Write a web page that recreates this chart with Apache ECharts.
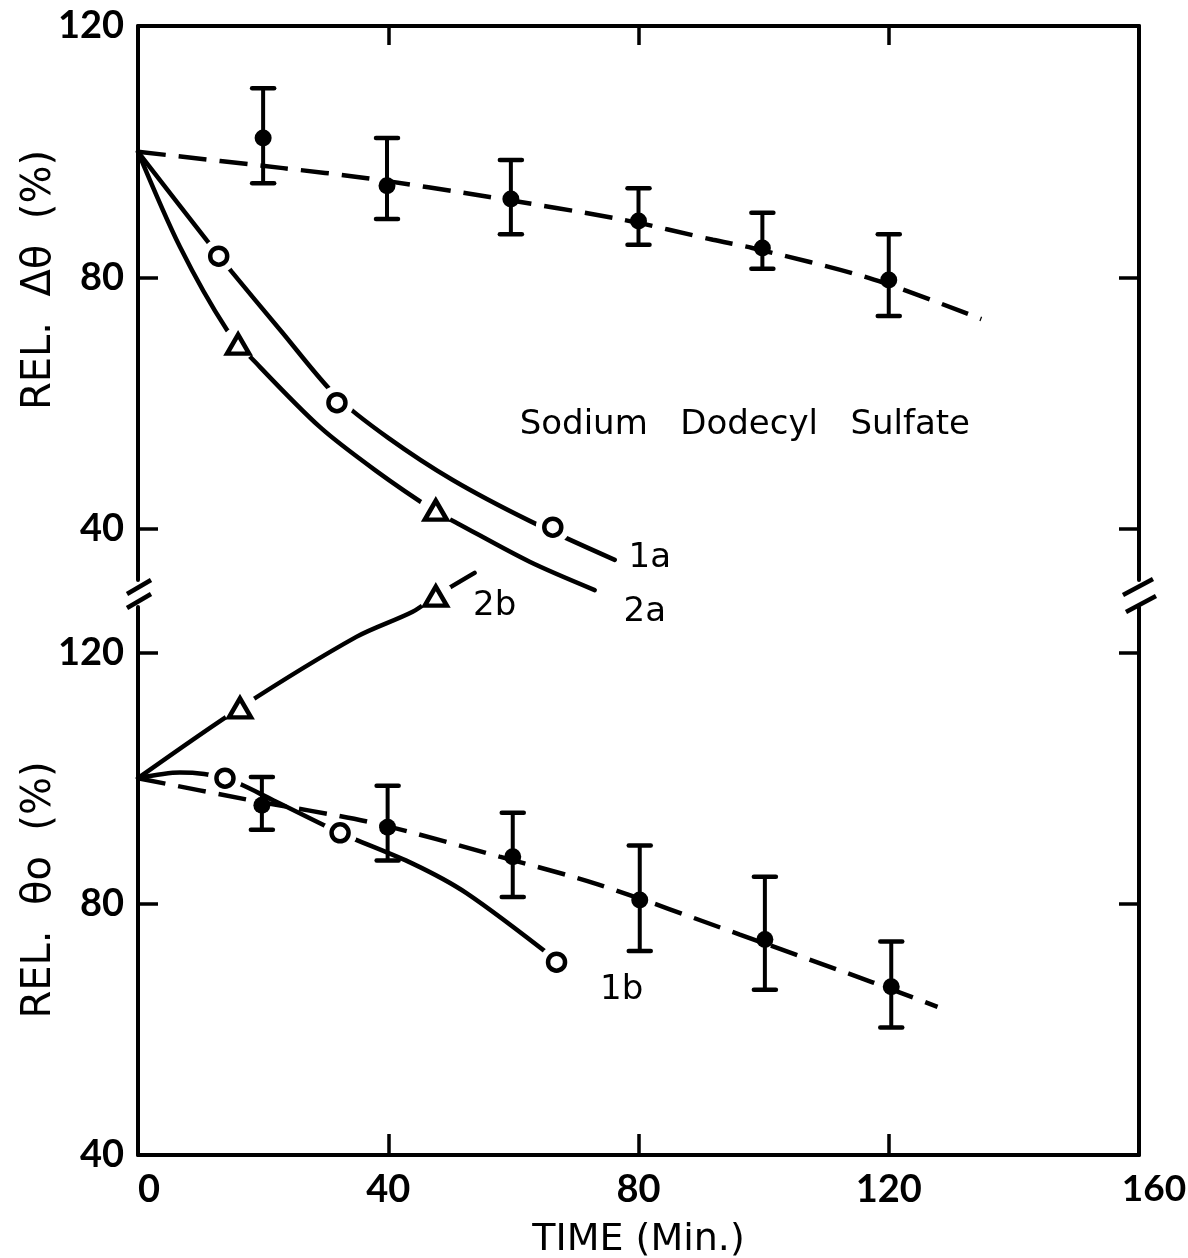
<!DOCTYPE html>
<html><head><meta charset="utf-8">
<script src="https://cdn.jsdelivr.net/npm/echarts@6/dist/echarts.min.js"></script>
<style>html,body{margin:0;padding:0;background:#fff}#c{width:1188px;height:1258px}</style>
</head><body><div id="c"></div>
<script>
// ---- tick labels ----
const xTicks = [0, 40, 80, 120, 160];
const yTicksUpper = [40, 80, 120];
const yTicksLower = [40, 80, 120];

// ---- upper panel: REL. Δθ (%) ----
const dthetaDots = [[20.0,102.2],[39.8,94.6],[59.6,92.5],[80.0,89.0],[99.8,84.7],[120.0,79.6]];
const dthetaErr  = [[20.0,95.0,110.1],[39.8,89.3,102.2],[59.6,86.9,98.7],[80.0,85.2,94.2],[99.8,81.4,90.3],[120.0,73.9,86.9]];
const dthetaTrend = [[0,100],[23.2,97.4],[36.6,95.8],[56.2,92.8],[77.5,89.2],[91.9,86.0],[98.2,84.7],[116.9,79.9],[134.8,73.4]];
const curve1a = [[0,100],[11,85.9],[15,80.9],[22.7,71.7],[31.8,61.0],[40,54.5],[50.3,47.8],[62.6,41.3],[76.2,35.1]];
const marks1a = [[12.9,83.4],[31.8,60.1],[66.3,40.3]];
const curve2a = [[0,100],[6.7,84.9],[14.2,71.7],[18.7,66.6],[29.1,56.2],[38,49.3],[47.4,42.9],[51.1,40.9],[62.6,34.8],[73,30.3]];
const marks2a = [[16.0,69.4],[47.6,43.0]];

// ---- lower panel: REL. θo (%) ----
const thetaDots = [[19.8,95.7],[39.9,92.2],[59.9,87.5],[80.2,80.6],[100.2,74.3],[120.4,66.8]];
const thetaErr  = [[19.8,91.8,100.2],[39.9,86.9,98.8],[59.9,81.1,94.5],[80.2,72.5,89.3],[100.2,66.3,84.3],[120.4,60.3,74.0]];
const thetaTrend = [[0,100],[17.4,96.6],[37.5,92.9],[57.8,87.5],[73.5,83.1],[96.2,75.1],[117.4,67.5],[127.8,63.6]];
const curve1b = [[0,100],[6.7,100.9],[13.9,100.0],[21.6,96.5],[32.3,91.3],[43.9,86.4],[52.5,81.7],[66.9,71.0]];
const marks1b = [[13.9,100.0],[32.3,91.3],[66.9,70.7]];
const curve2b = [[0,100],[16.3,111.2],[34.9,122.5],[43.9,126.5],[47.6,129.0],[53.8,132.7]];
const marks2b = [[16.3,111.2],[47.6,129.0]];

// ---- annotations (data coordinates) ----
const notesUpper = [{name:'1a', value:[81.8,35.4]},{name:'2a', value:[81.0,26.8]},{name:'Sodium   Dodecyl   Sulfate', value:[97,56.6]}];
const notesLower = [{name:'2b', value:[57.0,127.4]},{name:'1b', value:[77.3,66.3]}];

const NUMFONT = 'Lato';
const TXTFONT = 'DejaVu Sans';
const chart = echarts.init(document.getElementById('c'), null, {renderer:'canvas'});

function errRender(params, api) {
  const x = api.value(0), lo = api.value(1), hi = api.value(2);
  const a = api.coord([x, lo]), b = api.coord([x, hi]);
  const w = 11;
  const st = {stroke:'#000', lineWidth:4.5, lineCap:'round'};
  return {type:'group', children:[
    {type:'line', shape:{x1:a[0],y1:a[1],x2:b[0],y2:b[1]}, style:{stroke:'#000', lineWidth:4}},
    {type:'line', shape:{x1:a[0]-w,y1:a[1],x2:a[0]+w,y2:a[1]}, style:st},
    {type:'line', shape:{x1:b[0]-w,y1:b[1],x2:b[0]+w,y2:b[1]}, style:st}
  ]};
}

const axisLine = {show:true, lineStyle:{color:'#000', width:4}};
const tickStyle = {color:'#000', width:3.5};

function yAx(grid, pos, min, max, ticks, labels) {
  return {
    type:'value', gridIndex:grid, position:pos, min:min, max:max,
    axisLine:axisLine,
    axisTick:{show:true, inside:true, length:20, lineStyle:tickStyle, customValues:ticks},
    axisLabel:{show:labels, customValues:ticks, margin:14, color:'#000', fontFamily:NUMFONT, fontSize:38, fontWeight:'bold'},
    splitLine:{show:false}
  };
}

function solid(name, data, yIdx) {
  return {name:name, type:'line', xAxisIndex:yIdx, yAxisIndex:yIdx*2, data:data, smooth:0.3,
    symbol:'none', clip:false, z:2, lineStyle:{color:'#000', width:4.5, cap:'round'}, silent:true};
}
function dashed(name, data, yIdx) {
  return {name:name, type:'line', xAxisIndex:yIdx, yAxisIndex:yIdx*2, data:data, smooth:0.3,
    symbol:'none', clip:false, z:4, lineStyle:{color:'#000', width:4.5, type:[28,13]}, silent:true};
}
function halo(data, yIdx) {
  return {type:'scatter', xAxisIndex:yIdx, yAxisIndex:yIdx*2, data:data, symbol:'circle', symbolSize:34, clip:false,
    z:3, itemStyle:{color:'#fff', opacity:1}, silent:true};
}
function marker(name, data, yIdx, sym) {
  return {name:name, type:'scatter', xAxisIndex:yIdx, yAxisIndex:yIdx*2, data:data, symbol:sym,
    symbolSize: sym === 'triangle' ? [22,19] : 17, clip:false, z:5,
    itemStyle:{color:'#fff', borderColor:'#000', borderWidth:4.5, opacity:1}, silent:true};
}
function dots(name, data, yIdx) {
  return {name:name, type:'scatter', xAxisIndex:yIdx, yAxisIndex:yIdx*2, data:data, symbol:'circle', symbolSize:17,
    z:6, itemStyle:{color:'#000', opacity:1}, silent:true};
}
function errs(name, data, yIdx) {
  return {name:name, type:'custom', xAxisIndex:yIdx, yAxisIndex:yIdx*2, data:data, renderItem:errRender, z:5, silent:true};
}
function notes(data, yIdx, size) {
  return {type:'scatter', xAxisIndex:yIdx, yAxisIndex:yIdx*2, data:data, symbolSize:1, clip:false, z:7, silent:true,
    itemStyle:{color:'rgba(0,0,0,0)', opacity:1},
    label:{show:true, position:'inside', formatter:'{b}', color:'#000', opacity:1, fontFamily:TXTFONT, fontSize:size}};
}

const lastX = xTicks[xTicks.length-1];
const option = {
  backgroundColor:'#fff',
  animation:false,
  textStyle:{fontFamily:TXTFONT, color:'#000'},
  grid:[
    {left:138, top:26, width:1001, height:554, outerBoundsMode:'none', containLabel:false},
    {left:138, top:607, width:1001, height:548, outerBoundsMode:'none', containLabel:false}
  ],
  xAxis:[
    {type:'value', gridIndex:0, position:'top', min:xTicks[0], max:lastX, interval:40,
      axisLine:axisLine, axisTick:{show:true, inside:true, length:19, lineStyle:tickStyle},
      axisLabel:{show:false}, splitLine:{show:false}},
    {type:'value', gridIndex:1, position:'bottom', min:xTicks[0], max:lastX, interval:40,
      axisLine:axisLine, axisTick:{show:true, inside:true, length:21, lineStyle:tickStyle},
      axisLabel:{show:true, margin:16, color:'#000', fontFamily:NUMFONT, fontSize:38, fontWeight:'bold', alignMinLabel:'left',
        formatter:function(v){ return v === lastX ? '{r|' + v + '}' : String(v); },
        rich:{r:{padding:[0,0,0,30], fontFamily:NUMFONT, fontSize:37, fontWeight:'bold', color:'#000'}}},
      splitLine:{show:false},
      name:'TIME (Min.)', nameLocation:'middle', nameGap:66,
      nameTextStyle:{color:'#000', fontFamily:TXTFONT, fontSize:38, verticalAlign:'top'}}
  ],
  yAxis:[
    yAx(0, 'left', 31.9, 120, yTicksUpper, true),
    yAx(0, 'right', 31.9, 120, yTicksUpper, false),
    yAx(1, 'left', 40, 127.26, yTicksLower, true),
    yAx(1, 'right', 40, 127.26, yTicksLower, false)
  ],
  graphic:[
    {type:'text', x:40, y:280, rotation:Math.PI/2, style:{text:'REL.  Δθ  (%)', align:'center', verticalAlign:'middle', fill:'#000', font:'40px "DejaVu Sans"'}},
    {type:'text', x:40, y:890, rotation:Math.PI/2, style:{text:'REL.  θo  (%)', align:'center', verticalAlign:'middle', fill:'#000', font:'40px "DejaVu Sans"'}},
    // axis break marks
    {type:'line', shape:{x1:127,y1:594,x2:151,y2:580}, style:{stroke:'#000', lineWidth:4.5}},
    {type:'line', shape:{x1:127,y1:608,x2:151,y2:594}, style:{stroke:'#000', lineWidth:4.5}},
    {type:'line', shape:{x1:1123,y1:595,x2:1153,y2:579}, style:{stroke:'#000', lineWidth:4.5}},
    {type:'line', shape:{x1:1126,y1:612,x2:1156,y2:596}, style:{stroke:'#000', lineWidth:4.5}}
  ],
  series:[
    dashed('Δθ trend', dthetaTrend, 0),
    errs('Δθ error', dthetaErr, 0),
    dots('Δθ', dthetaDots, 0),
    solid('1a', curve1a, 0), halo(marks1a, 0), marker('1a pts', marks1a, 0, 'circle'),
    solid('2a', curve2a, 0), halo(marks2a, 0), marker('2a pts', marks2a, 0, 'triangle'),
    notes(notesUpper, 0, 34),

    dashed('θo trend', thetaTrend, 1),
    errs('θo error', thetaErr, 1),
    dots('θo', thetaDots, 1),
    solid('1b', curve1b, 1), halo(marks1b, 1), marker('1b pts', marks1b, 1, 'circle'),
    solid('2b', curve2b, 1), halo(marks2b, 1), marker('2b pts', marks2b, 1, 'triangle'),
    notes(notesLower, 1, 34)
  ]
};
chart.setOption(option);
</script></body></html>
